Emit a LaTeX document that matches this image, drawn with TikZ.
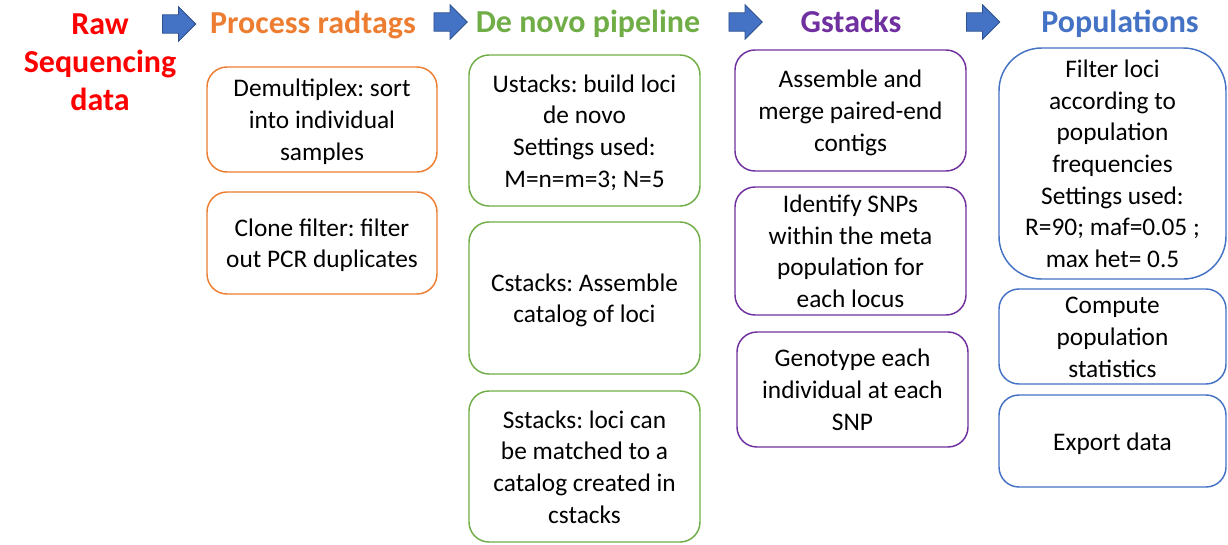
\documentclass[tikz,border=0pt]{standalone}
\usepackage{fontspec}
\setmainfont{Carlito}
\frenchspacing
\usetikzlibrary{shapes.arrows}
\definecolor{cred}{HTML}{FF0000}
\definecolor{corange}{HTML}{ED7D31}
\definecolor{cgreen}{HTML}{70AD47}
\definecolor{cpurple}{HTML}{7030A0}
\definecolor{cblue}{HTML}{4472C4}
\definecolor{cblueedge}{HTML}{2F528F}
\newcommand{\boxtext}[1]{\raisebox{-2pt}[\height][\depth]{\begin{tabular}{@{}c@{}}#1\end{tabular}}}
\tikzset{
  stepbox/.style={draw=#1, line width=1.1pt, rounded corners=15pt, inner sep=0pt,
    text=black, font=\fontsize{19}{23.75}\selectfont\frenchspacing},
  header/.style={text=#1, align=center, inner sep=0pt, font=\fontsize{24}{28.5}\selectfont\bfseries},
  blockarrow/.style={single arrow, fill=cblue, draw=cblueedge, line width=0.6pt,
    inner sep=6.6pt, single arrow head extend=6pt, minimum height=25pt, minimum width=25pt}
}
\begin{document}
\begin{tikzpicture}[x=0.75pt,y=-0.75pt]
\useasboundingbox (0,0) rectangle (1228,544);
% headers
\node[header=cred] (raw) at (100,62) {Raw\\Sequencing\\data};
\node[header=corange, anchor=base] (hproc) at (313,33) {Process radtags};
\node[header=cgreen, anchor=base] (hdenovo) at (588,32) {De novo pipeline};
\node[header=cpurple, anchor=base] (hgstacks) at (851,32) {Gstacks};
\node[header=cblue, anchor=base] (hpop) at (1120,32) {Populations};
% arrows
\node[blockarrow] (a1) at (174.5,24) {};
\node[blockarrow] (a2) at (446,22) {};
\node[blockarrow] (a3) at (741,22) {};
\node[blockarrow] (a4) at (978.5,22) {};
% process radtags
\node[stepbox=corange, minimum width=172.5pt, minimum height=78.75pt] (p1) at (322,119.5)
  {\boxtext{Demultiplex: sort\\into individual\\samples}};
\node[stepbox=corange, minimum width=172.5pt, minimum height=76.5pt] (p2) at (322,243)
  {\boxtext{Clone filter: filter\\out PCR duplicates}};
% de novo
\node[stepbox=cgreen, minimum width=173.25pt, minimum height=113.25pt] (d1) at (584.5,130.5)
  {\boxtext{Ustacks: build loci\\de novo\\Settings used:\\M=n=m=3; N=5}};
\node[stepbox=cgreen, minimum width=173.25pt, minimum height=114pt] (d2) at (584.5,298)
  {\boxtext{Cstacks: Assemble\\catalog of loci}};
\node[stepbox=cgreen, minimum width=173.25pt, minimum height=113.25pt] (d3) at (584.5,466.5)
  {\boxtext{Sstacks: loci can\\be matched to a\\catalog created in\\cstacks}};
% gstacks
\node[stepbox=cpurple, minimum width=173.25pt, minimum height=90.75pt] (g1) at (850.5,110.5)
  {\boxtext{Assemble and\\merge paired-end\\contigs}};
\node[stepbox=cpurple, minimum width=173.25pt, minimum height=96pt] (g2) at (850.5,251)
  {\boxtext{Identify SNPs\\within the meta\\population for\\each locus}};
\node[stepbox=cpurple, minimum width=173.25pt, minimum height=86.25pt] (g3) at (852.5,389.5)
  {\boxtext{Genotype each\\individual at each\\SNP}};
% populations
\node[stepbox=cblue, rounded corners=32pt, minimum width=170.25pt, minimum height=173.25pt] (q1) at (1112.5,163.5)
  {\boxtext{Filter loci\\according to\\population\\frequencies\\Settings used:\\R=90; maf=0.05 ;\\max het= 0.5}};
\node[stepbox=cblue, minimum width=170.25pt, minimum height=69.75pt] (q2) at (1112.5,336.5)
  {\boxtext{Compute\\population\\statistics}};
\node[stepbox=cblue, minimum width=170.25pt, minimum height=69pt] (q3) at (1112.5,441)
  {\boxtext{Export data}};
\end{tikzpicture}
\end{document}
